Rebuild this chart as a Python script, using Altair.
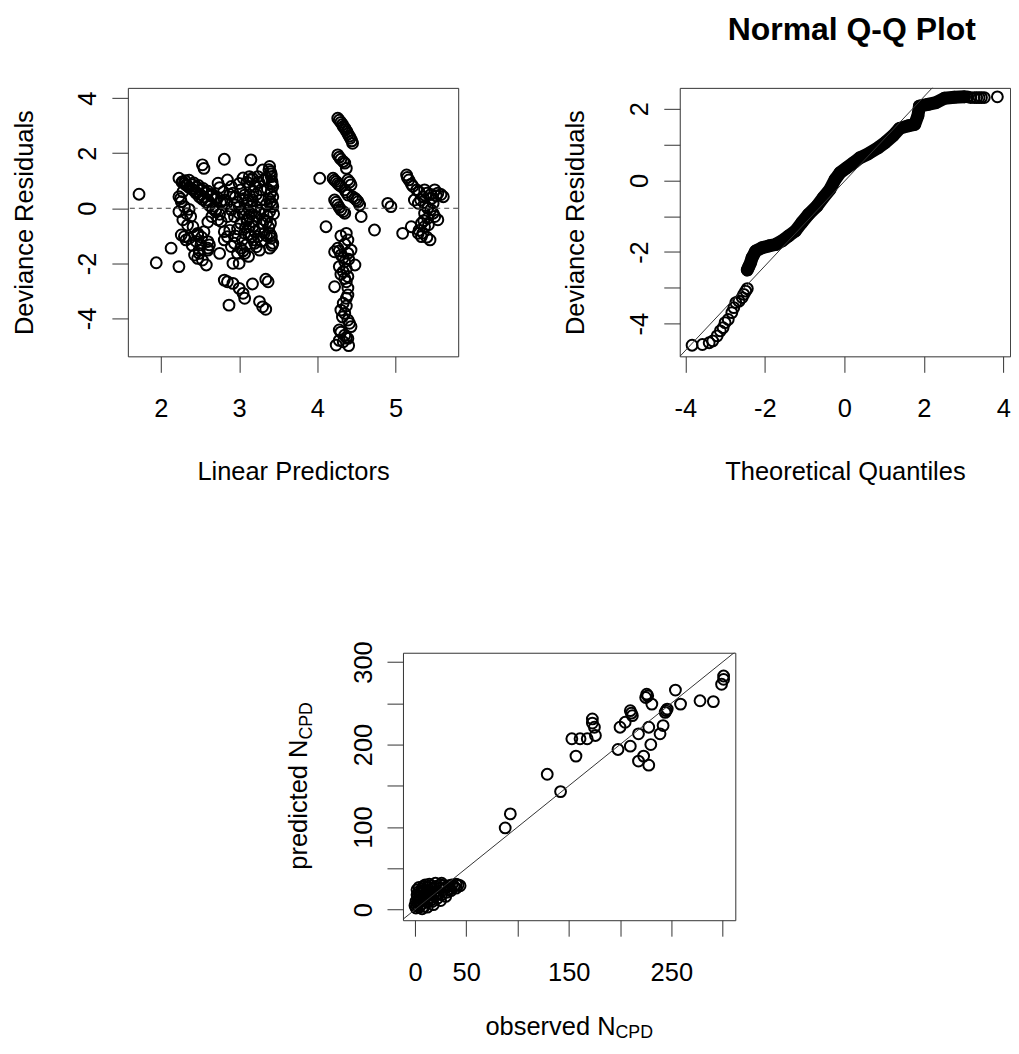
import altair as alt
import pandas as pd

FONT = "Liberation Sans"
MINUS = "\u2212"

# ---------------- Panel 1: deviance residuals vs linear predictors ----------------
resid_left = [
    (1.72, 0.51), (1.94, -1.98), (2.13, -1.45), (2.23, -2.12),
    (2.23, 1.09), (2.28, 0.97), (2.32, 0.85), (2.36, 0.76), (2.41, 0.67), (2.45, 0.55),
    (2.49, 0.42), (2.53, 0.33), (2.58, 0.22), (2.62, 0.10), (2.66, -0.01), (2.70, -0.12),
    (2.75, -0.22),
    (2.36, 1.02), (2.42, 0.92), (2.48, 0.83), (2.54, 0.72), (2.60, 0.62), (2.66, 0.50),
    (2.72, 0.40), (2.78, 0.28), (2.84, 0.17),
    (2.27, 0.95), (2.30, 0.90), (2.34, 0.82), (2.39, 0.72), (2.44, 0.62), (2.50, 0.51),
    (2.55, 0.41), (2.60, 0.30),
    (2.23, 0.42), (2.26, 0.24), (2.30, 0.06), (2.36, -0.04), (2.23, -0.12), (2.28, -0.42),
    (2.34, -0.61), (2.41, -0.67), (2.30, -1.03), (2.32, -1.15), (2.26, -0.97), (2.36, -1.09),
    (2.47, -0.91), (2.51, -1.33), (2.49, -1.64), (2.53, -1.88), (2.58, -2.06), (2.60, -1.52),
    (2.62, -1.33), (2.75, -1.64), (2.47, -1.82), (2.43, -1.70), (2.60, -1.21), (2.60, -1.45),
    (2.47, -0.97), (2.49, -1.52),
    (2.70, -0.05), (2.65, -0.30), (2.60, -0.50), (2.55, -0.85), (2.52, -1.05), (2.45, -1.20),
    (2.40, -1.35), (2.38, -0.30), (2.33, -0.20), (2.28, 0.60), (2.25, 0.35),
    (2.31, 1.00), (2.40, 0.86), (2.46, 0.77), (2.52, 0.66), (2.58, 0.56), (2.64, 0.44),
    (2.70, 0.33), (2.76, 0.21),
]
resid_mid = [
    (2.53, 1.58), (2.55, 1.45), (2.81, 1.78), (3.15, 1.76), (3.13, 1.15), (3.17, 1.09),
    (2.85, 1.03), (2.73, 0.91), (2.90, 0.79), (2.92, 0.55), (3.07, 0.48), (3.13, 0.79),
    (3.02, 0.67), (2.81, 0.30), (2.94, 0.12), (2.73, -0.42), (2.77, -0.48), (2.81, -0.85),
    (2.85, -1.03), (2.81, -1.15), (2.94, -1.27), (2.90, -1.39), (3.02, -1.45), (3.07, -1.64),
    (2.98, -1.64), (2.92, -2.00), (3.00, -2.00), (2.85, -2.67), (2.81, -2.61), (2.92, -2.73),
    (3.00, -2.91), (3.05, -3.09), (3.07, -3.27), (2.87, -3.52), (3.17, -2.75), (3.34, -2.58),
    (3.37, -2.67), (3.26, -3.39), (3.30, -3.58), (3.34, -3.67),
    (3.39, 1.52), (3.40, 1.33), (3.41, 1.15), (3.42, 0.97), (3.43, 0.79), (3.41, 0.61),
    (3.43, 0.42), (3.40, 0.24), (3.43, 0.06), (3.39, -0.12), (3.39, -0.91), (3.41, -1.09),
    (3.43, -1.27), (3.39, -1.45),
    (3.15, 1.03), (3.20, 0.79), (3.13, 0.48), (3.17, 0.30), (3.15, 0.06), (3.20, -0.12),
    (3.13, -0.30), (3.17, -0.48), (3.13, -0.67), (3.20, -0.85), (3.15, -1.03), (3.20, -1.27),
    (3.26, -1.52), (3.07, -0.91), (3.04, -1.15), (3.09, -1.33), (3.02, -0.55), (3.00, -0.18),
    (3.07, -0.06), (2.94, -0.30), (2.90, -0.06), (2.98, 0.24), (3.28, 0.67), (3.28, 0.30),
    (3.26, -0.18), (3.30, -0.55), (3.32, -0.91), (3.24, -1.03), (3.32, -0.42), (3.24, 1.15),
    (3.32, 1.03), (3.30, 1.39), (3.10, 0.20), (3.22, 0.05), (3.05, 0.35), (3.18, -0.65),
    (3.10, -0.45), (3.25, -0.75), (3.35, 0.15), (3.36, -0.30),
    (3.05, 1.10), (3.10, 0.95), (3.00, 0.90), (2.95, 0.40), (3.00, 0.05), (3.05, -0.20),
    (3.10, -0.40), (3.08, -0.70), (3.12, -0.95), (3.18, -1.15), (3.22, -1.40), (3.05, -1.55),
    (3.12, -1.75), (3.28, -1.20), (3.35, -1.00), (3.38, -0.70), (3.35, -0.50), (3.38, 0.35),
    (3.36, 0.70), (3.35, 1.10), (3.38, 1.40), (3.22, 0.50), (3.25, 0.95), (3.18, 0.60),
    (3.12, 0.30), (3.22, -0.30), (3.28, -0.05), (3.15, -0.20), (2.98, -0.75), (2.95, -1.00),
    (2.88, -0.80), (2.85, -0.30), (2.88, 0.50), (2.80, 0.60), (2.75, 0.75),
    (3.41, 1.25), (3.42, 0.88), (3.40, 0.52), (3.42, 0.15), (3.41, -1.00), (3.42, -1.35),
    (3.44, -0.20), (3.40, -0.55),
]
resid_right = [
    (4.26, 3.27), (4.30, 3.12), (4.33, 2.97), (4.36, 2.85), (4.39, 2.70), (4.42, 2.55),
    (4.45, 2.36), (4.26, 1.94), (4.30, 1.78), (4.35, 1.64), (4.37, 1.45), (4.03, 1.09),
    (4.20, 1.09), (4.24, 0.97), (4.28, 0.85), (4.39, 1.03), (4.43, 0.85), (4.35, 0.67),
    (4.39, 0.48), (4.48, 0.36), (4.52, 0.24), (4.54, 0.12), (4.22, 0.30), (4.26, 0.12),
    (4.30, -0.06), (4.35, -0.18), (4.56, -0.30), (4.11, -0.67), (4.73, -0.79),
    (4.37, -0.91), (4.39, -1.15), (4.22, -1.58), (4.26, -1.45), (4.30, -1.70), (4.39, -1.64),
    (4.43, -1.52), (4.48, -2.06), (4.35, -1.94), (4.28, -2.12), (4.33, -2.30), (4.39, -2.48),
    (4.37, -2.67), (4.22, -2.85), (4.37, -3.27), (4.39, -3.15), (4.30, -3.70), (4.35, -3.82),
    (4.39, -4.06), (4.43, -4.30), (4.28, -4.42), (4.35, -4.61), (4.39, -4.73), (4.24, -4.97),
    (4.40, -4.99), (4.33, -4.85),
    (4.28, 3.20), (4.32, 3.05), (4.35, 2.92), (4.38, 2.78), (4.41, 2.62), (4.44, 2.45),
    (4.28, 1.86), (4.33, 1.70),
    (4.22, 1.02), (4.26, 0.90), (4.30, 0.80), (4.41, 0.95), (4.37, 0.58), (4.45, 0.42),
    (4.50, 0.30), (4.24, 0.22), (4.28, 0.03), (4.33, -0.12),
    (4.30, -1.00), (4.35, -1.30), (4.28, -1.55), (4.33, -1.80), (4.40, -1.85), (4.37, -2.20),
    (4.30, -2.40), (4.35, -2.55), (4.39, -2.90), (4.33, -3.45), (4.37, -3.55), (4.32, -3.95),
    (4.41, -4.18), (4.30, -4.50), (4.37, -4.70), (4.28, -4.80),
    (4.90, 0.18), (4.94, 0.06),
    (5.14, 1.21), (5.17, 1.03), (5.20, 0.88), (5.27, 0.67), (5.37, 0.67), (5.50, 0.67),
    (5.61, 0.42), (5.54, 0.55), (5.46, 0.36), (5.35, 0.42), (5.29, 0.18), (5.41, 0.00),
    (5.37, -0.18), (5.48, -0.18), (5.54, -0.42), (5.41, -0.36), (5.33, -0.55), (5.37, -0.67),
    (5.29, -0.91), (5.44, -1.15), (5.09, -0.91), (5.20, -0.67), (5.33, -1.03), (5.24, 0.30),
    (5.48, 0.18),
    (5.15, 1.12), (5.22, 0.80), (5.30, 0.60), (5.40, 0.55), (5.45, 0.50), (5.52, 0.45),
    (5.58, 0.50), (5.32, 0.30), (5.38, 0.10), (5.45, -0.05), (5.50, -0.30), (5.36, -0.45),
    (5.42, -0.60), (5.30, -0.80), (5.35, -0.90), (5.40, -1.05),
]

# ---------------- Panel 2: normal Q-Q plot ----------------
qq_low = [
    (-3.83, -4.60), (-3.57, -4.58), (-3.40, -4.53), (-3.31, -4.48), (-3.20, -4.34),
    (-3.12, -4.20), (-3.05, -4.11), (-3.00, -3.97), (-2.92, -3.88), (-2.83, -3.69),
    (-2.78, -3.55), (-2.73, -3.41), (-2.65, -3.37), (-2.57, -3.27), (-2.53, -3.18),
    (-2.48, -3.09), (-2.44, -3.02),
]
qq_mid = [
    (-2.44, -2.50), (-2.40, -2.40), (-2.36, -2.30), (-2.32, -2.16), (-2.23, -1.97),
    (-2.07, -1.88), (-1.90, -1.83), (-1.73, -1.79), (-1.57, -1.69), (-1.40, -1.55),
    (-1.23, -1.41), (-1.07, -1.18), (-0.90, -0.95), (-0.69, -0.72), (-0.53, -0.48),
    (-0.36, -0.25), (-0.23, 0.03), (-0.11, 0.21), (0.06, 0.35), (0.23, 0.49),
    (0.39, 0.63), (0.60, 0.74), (0.85, 0.91), (1.02, 1.05), (1.23, 1.25),
    (1.39, 1.45), (1.60, 1.52), (1.77, 1.56), (1.85, 1.80), (1.89, 2.07),
    (2.10, 2.12), (2.31, 2.17), (2.52, 2.29), (2.77, 2.32), (3.02, 2.33),
]
qq_high = [
    (3.10, 2.33), (3.18, 2.31), (3.27, 2.31), (3.33, 2.31), (3.39, 2.31),
    (3.45, 2.31), (3.52, 2.31), (3.85, 2.33),
]
qq_line_x = [-4.3, 2.4]
qq_line_intercept = -0.03
qq_line_slope = 1.18

# ---------------- Panel 3: predicted vs observed ----------------
obs_high = [301, 301, 299, 291, 278, 254, 259, 246, 244, 242, 239, 230, 231, 226, 225, 228,
            218, 223, 228, 218, 212, 210, 210, 205, 200, 198, 173, 175, 176, 168, 161, 153,
            157, 129, 142, 93, 88, 245, 173, 211, 227]
pred_high = [283, 279, 273, 252, 253, 266, 249, 243, 239, 223, 213, 200, 249, 261, 257, 221,
             213, 186, 175, 180, 235, 241, 198, 227, 221, 194, 231, 221, 211, 207, 207, 207,
             186, 164, 143, 116, 99, 241, 226, 238, 259]
obs_low = [1, 2, 3, 4, 5, 5, 6, 7, 8, 3, 2, 4, 6, 8, 9, 10, 11, 12, 12, 14, 15, 16, 15, 17,
           18, 20, 20, 22, 23, 24, 25, 26, 28, 28, 30, 31, 33, 34, 36, 38, 40, 42, 44, 40, 35,
           30, 25, 18, 12, 7, 0, 1, 3, 2, 4, 10, 14, 20, 26, 19, 21, 13, 9, 6, 16]
pred_low = [2, 5, 8, 3, 10, 15, 20, 25, 28, 12, 18, 22, 6, 12, 4, 16, 22, 27, 9, 14, 20, 25,
            29, 10, 17, 22, 28, 14, 20, 26, 30, 18, 24, 29, 27, 21, 29, 25, 30, 28, 31, 30,
            29, 26, 23, 16, 11, 6, 3, 1, 5, 10, 16, 24, 27, 30, 31, 32, 32, 26, 18, 19, 24,
            13, 12]
identity_ends = [-20, 320]

# ---------------- build ----------------
PT = dict(shape="circle", filled=False, size=118, strokeWidth=2.0, color="black", opacity=1)
LINE_COLOR = "#333333"
FIX = f"replace(datum.label, '{MINUS}', '-')"

df1 = pd.DataFrame(resid_left + resid_mid + resid_right, columns=["lp", "dr"])
x1 = alt.X("lp:Q", scale=alt.Scale(domain=[1.577, 5.80], nice=False, zero=False),
           axis=alt.Axis(values=[2, 3, 4, 5], title="Linear Predictors", titleY=123))
y1 = alt.Y("dr:Q", scale=alt.Scale(domain=[-5.38, 4.375], nice=False, zero=False),
           axis=alt.Axis(values=[-4, -2, 0, 2, 4], labelExpr=FIX,
                         title="Deviance Residuals", titleX=-96))
p1_pts = alt.Chart(df1).mark_point(**PT).encode(x=x1, y=y1)
p1_zero = alt.Chart(pd.DataFrame({"dr": [0.0]})).mark_rule(
    strokeDash=[5, 4], color="#444444", strokeWidth=1).encode(y=y1)
p1 = alt.layer(p1_pts, p1_zero).properties(width=331, height=269)

df2_pts = pd.DataFrame(qq_low + qq_mid + qq_high, columns=["tq", "sq"])
df2_band = pd.DataFrame(qq_mid, columns=["tq", "sq"])
df2_line = pd.DataFrame({"tq": qq_line_x,
                         "sq": [qq_line_intercept + qq_line_slope * v for v in qq_line_x]})
x2 = alt.X("tq:Q", scale=alt.Scale(domain=[-4.14, 4.17], nice=False, zero=False),
           axis=alt.Axis(values=[-4, -2, 0, 2, 4], labelExpr=FIX,
                         title="Theoretical Quantiles", titleY=123))
y2 = alt.Y("sq:Q", scale=alt.Scale(domain=[-4.91, 2.58], nice=False, zero=False),
           axis=alt.Axis(values=[-4, -3, -2, -1, 0, 1, 2],
                         labelExpr=f"datum.value % 2 == 0 ? {FIX} : ''",
                         title="Deviance Residuals", titleX=-96))
p2_band = alt.Chart(df2_band).mark_line(
    strokeWidth=13, strokeCap="round", strokeJoin="round", color="black").encode(
    x=x2, y=y2, order="tq:Q")
p2_pts = alt.Chart(df2_pts).mark_point(**PT).encode(x=x2, y=y2)
p2_line = alt.Chart(df2_line).mark_line(clip=True, color=LINE_COLOR, strokeWidth=1).encode(
    x=x2, y=y2)
p2 = alt.layer(p2_band, p2_pts, p2_line).properties(width=331, height=269)

df3 = pd.DataFrame({"obs": obs_high + obs_low, "pred": pred_high + pred_low})
df3_line = pd.DataFrame({"obs": identity_ends, "pred": identity_ends})
x3 = alt.X("obs:Q", scale=alt.Scale(domain=[-11.7, 312.4], nice=False, zero=False),
           axis=alt.Axis(values=[0, 50, 100, 150, 200, 250, 300],
                         labelExpr="indexof([0, 50, 150, 250], datum.value) >= 0 ? datum.label : ''",
                         title=None))
y3 = alt.Y("pred:Q", scale=alt.Scale(domain=[-12.8, 311.2], nice=False, zero=False),
           axis=alt.Axis(values=[0, 50, 100, 150, 200, 250, 300],
                         labelExpr="datum.value % 100 == 0 ? datum.label : ''",
                         title=None))
p3_pts = alt.Chart(df3).mark_point(**PT).encode(x=x3, y=y3)
p3_line = alt.Chart(df3_line).mark_line(clip=True, color=LINE_COLOR, strokeWidth=1).encode(
    x=x3, y=y3)

TXT = dict(font=FONT, color="black", baseline="alphabetic")
x_main = alt.Chart(pd.DataFrame({"t": ["observed N"]})).mark_text(
    fontSize=25.5, align="right", **TXT).encode(text="t:N", x=alt.value(213), y=alt.value(383))
x_sub = alt.Chart(pd.DataFrame({"t": ["CPD"]})).mark_text(
    fontSize=17.8, align="left", **TXT).encode(text="t:N", x=alt.value(213), y=alt.value(386))
y_main = alt.Chart(pd.DataFrame({"t": ["predicted N"]})).mark_text(
    fontSize=25.5, align="right", angle=270, **TXT).encode(text="t:N", x=alt.value(-96), y=alt.value(87))
y_sub = alt.Chart(pd.DataFrame({"t": ["CPD"]})).mark_text(
    fontSize=17.8, align="left", angle=270, **TXT).encode(text="t:N", x=alt.value(-91), y=alt.value(87))
# invisible spacer so the centred bottom panel sits where the reference has it
p3_pad = alt.Chart(pd.DataFrame({"t": [0]})).mark_rule(strokeOpacity=0).encode(
    x=alt.value(-134), y=alt.value(130), y2=alt.value(131))
p3 = alt.layer(p3_pts, p3_line, x_main, x_sub, y_main, y_sub, p3_pad).properties(
    width=333, height=268)

top = alt.hconcat(p1, p2, spacing=104)
chart = alt.vconcat(top, p3, spacing=155, center=True).properties(
    title=alt.Title("Normal Q-Q Plot", anchor="end", dx=-35, dy=4, fontSize=32, font=FONT,
                    fontWeight="bold", color="black", offset=44),
    padding={"left": 3, "top": 5, "right": 0, "bottom": 0},
).configure_view(stroke="#333333", strokeWidth=1).configure_axis(
    grid=False, domain=False, tickSize=16, tickColor="#333333", tickWidth=1,
    labelFont=FONT, labelFontSize=25.5, labelColor="black", labelFlush=False,
    labelOverlap=False, titleFont=FONT, titleFontSize=25.5, titleFontWeight="normal",
    titleColor="black",
).configure_axisX(
    labelBaseline="alphabetic", labelPadding=44, titleBaseline="alphabetic", labelAngle=0,
).configure_axisY(
    labelAngle=270, labelAlign="center", labelBaseline="alphabetic", labelPadding=16,
    titleAngle=270, titleBaseline="alphabetic",
)

chart.save("out.html", embed_options={"renderer": "svg", "actions": False})
